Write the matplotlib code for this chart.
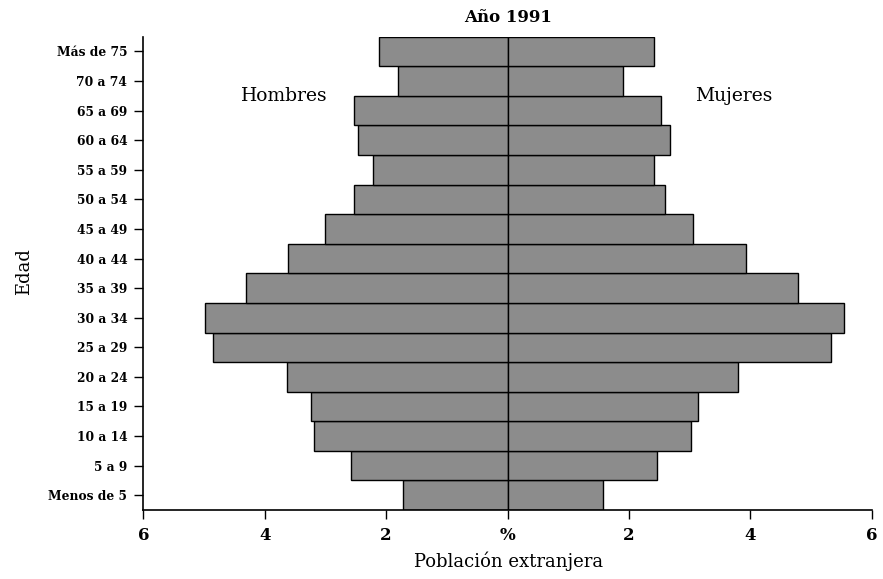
import matplotlib.pyplot as plt
import numpy as np

# grupos de edad, de abajo hacia arriba
edades = ['Menos de 5', '5 a 9', '10 a 14', '15 a 19', '20 a 24', '25 a 29',
          '30 a 34', '35 a 39', '40 a 44', '45 a 49', '50 a 54', '55 a 59',
          '60 a 64', '65 a 69', '70 a 74', 'Más de 75']
hombres = [1.72, 2.58, 3.18, 3.23, 3.64, 4.86, 4.98, 4.30,
           3.62, 3.00, 2.53, 2.22, 2.47, 2.53, 1.80, 2.12]
mujeres = [1.58, 2.46, 3.02, 3.14, 3.80, 5.33, 5.55, 4.79,
           3.93, 3.05, 2.59, 2.41, 2.67, 2.53, 1.90, 2.41]
xticks = [-6, -4, -2, 0, 2, 4, 6]
xticklabels = ['6', '4', '2', '%', '2', '4', '6']

plt.rcParams['font.family'] = 'DejaVu Serif'

fig = plt.figure(figsize=(8.83, 5.79), dpi=100)
ax = fig.add_axes([0.1623, 0.1192, 0.8249, 0.8174])

y = np.arange(len(edades))
ax.barh(y, [-h for h in hombres], height=1.0, color='#8c8c8c',
        edgecolor='black', linewidth=1)
ax.barh(y, mujeres, height=1.0, color='#8c8c8c',
        edgecolor='black', linewidth=1)

ax.set_xlim(-6, 6)
ax.set_ylim(-0.5, 15.5)
ax.set_xticks(xticks)
ax.set_xticklabels(xticklabels, fontsize=12, fontweight='bold')
ax.set_yticks(y)
ax.set_yticklabels(edades, fontsize=8.8, fontweight='bold')
ax.tick_params(axis='x', length=6.5, width=1, pad=6)
ax.tick_params(axis='y', length=6.5, width=1, pad=5)

ax.spines['top'].set_visible(False)
ax.spines['right'].set_visible(False)
ax.spines['left'].set_linewidth(1.2)
ax.spines['bottom'].set_linewidth(1.2)

ax.text(-3.68, 13.5, 'Hombres', ha='center', va='center', fontsize=13.5)
ax.text(3.72, 13.5, 'Mujeres', ha='center', va='center', fontsize=13.5)

fig.text(508.3 / 883, 1 - 18 / 579, 'Año 1991', ha='center', va='center',
         fontsize=12, fontweight='bold')
fig.text(508.3 / 883, 1 - 561 / 579, 'Población extranjera', ha='center',
         va='center', fontsize=13)
fig.text(24 / 883, 1 - 272 / 579, 'Edad', ha='center', va='center',
         rotation=90, fontsize=13)

fig.savefig('out.png', dpi=100)
